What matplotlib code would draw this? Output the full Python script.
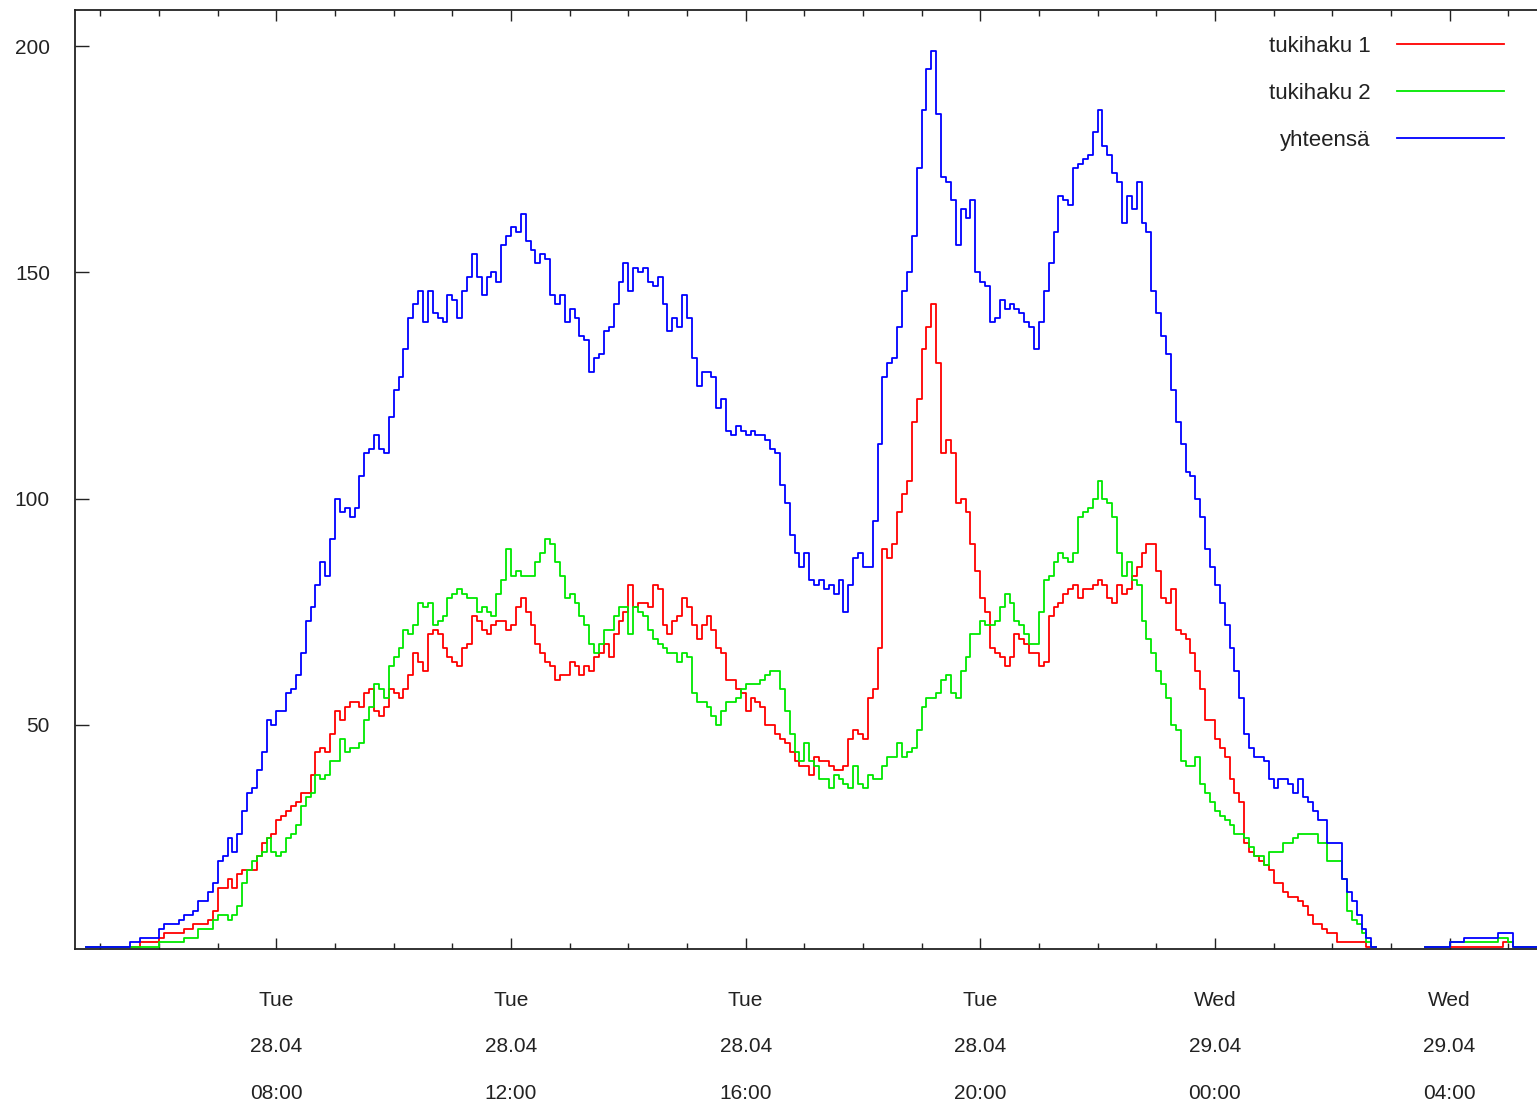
import numpy as np
import pandas as pd
import matplotlib
matplotlib.use("Agg")
import matplotlib.pyplot as plt
import matplotlib.dates as mdates

nan = np.nan

# 5-minute samples starting Tue 28.04 04:45
start_time = "2009-04-28 04:45"
sample_freq = "5min"

tukihaku_1 = [
    1, 1, 1, 1, 1, 1, 1, 1, 1, 1, 1, 2,
    2, 2, 2, 3, 4, 4, 4, 4, 5, 5, 6, 6,
    6, 7, 9, 14, 14, 16, 14, 17, 18, 18, 18, 21,
    24, 25, 26, 29, 30, 31, 32, 33, 35, 35, 39, 44,
    45, 44, 48, 53, 51, 54, 55, 55, 54, 57, 58, 53,
    52, 54, 58, 57, 56, 58, 61, 66, 64, 62, 70, 71,
    70, 67, 65, 64, 63, 67, 68, 74, 73, 71, 70, 72,
    73, 73, 71, 72, 76, 78, 75, 72, 68, 66, 64, 63,
    60, 61, 61, 64, 63, 61, 63, 62, 65, 66, 68, 65,
    70, 73, 75, 81, 76, 77, 77, 76, 81, 80, 72, 70,
    73, 74, 78, 76, 72, 69, 72, 74, 71, 67, 66, 60,
    60, 58, 57, 53, 56, 55, 54, 50, 50, 48, 47, 46,
    44, 42, 41, 41, 39, 43, 42, 42, 41, 40, 40, 41,
    47, 49, 48, 47, 56, 58, 67, 89, 87, 90, 97, 101,
    104, 117, 122, 133, 138, 143, 130, 110, 113, 110, 99, 100,
    97, 90, 84, 78, 75, 67, 66, 65, 63, 65, 70, 69,
    68, 66, 66, 63, 64, 74, 76, 77, 79, 80, 81, 78,
    80, 80, 81, 82, 81, 78, 77, 81, 79, 80, 83, 85,
    88, 90, 90, 84, 78, 77, 80, 71, 70, 69, 66, 62,
    58, 51, 51, 47, 45, 43, 38, 35, 33, 24, 22, 21,
    20, 19, 18, 15, 15, 13, 12, 12, 11, 10, 8, 6,
    6, 5, 4, 4, 2, 2, 2, 2, 2, 2, 1, 1,
    nan, nan, nan, nan, nan, nan, nan, nan, nan, nan, 1, 1,
    1, 1, 1, 1, 1, 1, 1, 1, 1, 1, 1, 1,
    1, 1, 2, 2, 1, 1, 1, 1, 1, 1,
]

tukihaku_2 = [
    1, 1, 1, 1, 1, 1, 1, 1, 1, 1, 1, 1,
    1, 1, 1, 2, 2, 2, 2, 2, 3, 3, 3, 5,
    5, 5, 7, 8, 8, 7, 8, 10, 15, 18, 20, 21,
    22, 25, 22, 21, 22, 25, 26, 28, 32, 34, 35, 39,
    38, 39, 42, 42, 47, 44, 45, 45, 46, 51, 54, 59,
    58, 56, 63, 65, 67, 71, 70, 72, 77, 76, 77, 72,
    73, 74, 78, 79, 80, 79, 78, 78, 75, 76, 75, 74,
    79, 82, 89, 83, 84, 83, 83, 83, 86, 88, 91, 90,
    86, 83, 78, 79, 77, 74, 72, 68, 66, 68, 71, 71,
    74, 76, 76, 70, 76, 75, 74, 71, 69, 68, 67, 66,
    66, 64, 66, 65, 57, 55, 55, 54, 52, 50, 53, 55,
    55, 56, 58, 59, 59, 59, 60, 61, 62, 62, 58, 53,
    48, 44, 42, 46, 42, 41, 38, 38, 36, 39, 38, 37,
    36, 41, 37, 36, 39, 38, 38, 41, 43, 43, 46, 43,
    44, 45, 49, 54, 56, 56, 57, 60, 61, 57, 56, 62,
    65, 70, 70, 73, 72, 72, 73, 76, 79, 77, 73, 72,
    70, 68, 68, 75, 82, 83, 86, 88, 87, 86, 88, 96,
    97, 98, 100, 104, 100, 99, 96, 88, 83, 86, 82, 81,
    73, 69, 66, 62, 59, 56, 50, 49, 42, 41, 41, 43,
    37, 35, 33, 31, 30, 29, 28, 26, 26, 25, 23, 21,
    21, 19, 22, 22, 22, 24, 24, 25, 26, 26, 26, 26,
    24, 24, 20, 20, 20, 16, 9, 7, 6, 4, 2, 1,
    nan, nan, nan, nan, nan, nan, nan, nan, nan, nan, 1, 1,
    1, 1, 1, 2, 2, 2, 2, 2, 2, 2, 2, 2,
    2, 3, 3, 2, 1, 1, 1, 1, 1, 1,
]

yhteensa = [
    1, 1, 1, 1, 1, 1, 1, 1, 1, 2, 2, 3,
    3, 3, 3, 5, 6, 6, 6, 7, 8, 8, 9, 11,
    11, 13, 15, 20, 21, 25, 22, 26, 31, 35, 36, 40,
    44, 51, 50, 53, 53, 57, 58, 61, 66, 73, 76, 81,
    86, 83, 91, 100, 97, 98, 96, 98, 105, 110, 111, 114,
    111, 110, 118, 124, 127, 133, 140, 143, 146, 139, 146, 141,
    140, 139, 145, 144, 140, 146, 149, 154, 149, 145, 149, 150,
    148, 156, 158, 160, 159, 163, 157, 155, 152, 154, 153, 145,
    143, 145, 139, 142, 140, 136, 135, 128, 131, 132, 137, 138,
    143, 148, 152, 146, 151, 150, 151, 148, 147, 149, 143, 137,
    140, 138, 145, 140, 131, 125, 128, 128, 127, 120, 122, 115,
    114, 116, 115, 114, 115, 114, 114, 113, 111, 110, 103, 99,
    92, 88, 85, 88, 82, 81, 82, 80, 81, 79, 82, 75,
    81, 87, 88, 85, 85, 95, 112, 127, 130, 131, 138, 146,
    150, 158, 173, 186, 195, 199, 185, 171, 170, 166, 156, 164,
    162, 166, 150, 148, 147, 139, 140, 144, 142, 143, 142, 141,
    139, 138, 133, 139, 146, 152, 159, 167, 166, 165, 173, 174,
    175, 176, 181, 186, 178, 176, 172, 170, 161, 167, 164, 170,
    161, 159, 146, 141, 136, 132, 124, 117, 112, 106, 105, 100,
    96, 89, 85, 81, 77, 72, 67, 62, 56, 48, 45, 43,
    43, 42, 38, 36, 38, 38, 37, 35, 38, 34, 33, 31,
    29, 29, 24, 24, 24, 16, 13, 11, 8, 5, 3, 1,
    nan, nan, nan, nan, nan, nan, nan, nan, nan, nan, 1, 1,
    1, 1, 1, 2, 2, 2, 3, 3, 3, 3, 3, 3,
    3, 4, 4, 4, 1, 1, 1, 1, 1, 1,
]

series_names = ["tukihaku 1", "tukihaku 2", "yhteensä"]
series_colors = ["#ff0000", "#00e800", "#0000ff"]
y_ticks = [50, 100, 150, 200]
x_start = "2009-04-28 04:34"
x_end = "2009-04-29 05:29:30"

times = pd.date_range(start_time, periods=len(yhteensa), freq=sample_freq)

plt.rcParams['font.family'] = ['Liberation Sans', 'DejaVu Sans']
plt.rcParams['font.size'] = 15

W, H = 1537, 1106
fig = plt.figure(figsize=(W / 100, H / 100), dpi=100)
ax = fig.add_axes([75 / W, (H - 949) / H, 1 - 75 / W, (949 - 10) / H])

for vals, name, col in zip([tukihaku_1, tukihaku_2, yhteensa], series_names, series_colors):
    ax.step(times, vals, where='post', color=col, lw=1.3, label=name)

ax.set_xlim(pd.Timestamp(x_start), pd.Timestamp(x_end))
ax.set_ylim(0.5, 208)
ax.set_yticks(y_ticks)

ax.xaxis.set_major_locator(mdates.HourLocator(byhour=range(0, 24, 4)))
ax.xaxis.set_minor_locator(mdates.HourLocator())
ax.xaxis.set_major_formatter(mdates.DateFormatter('%a\n%d.%m\n%H:%M'))

axis_color = '#222222'
for side in ['left', 'bottom', 'top']:
    ax.spines[side].set_color(axis_color)
    ax.spines[side].set_linewidth(1.3)
ax.spines['right'].set_visible(False)

ax.tick_params(axis='both', which='both', direction='in', colors=axis_color,
               labelcolor='#222222', width=1.0)
ax.tick_params(axis='x', which='both', top=True, bottom=True)
ax.tick_params(axis='x', which='major', length=8, pad=30)
ax.tick_params(axis='x', which='minor', length=4)
ax.tick_params(axis='y', which='major', length=10, pad=18, right=False)
for lbl in ax.get_xticklabels():
    lbl.set_linespacing(2.85)

leg = ax.legend(loc='upper right', bbox_to_anchor=(1504 / W, 1 - 36 / H),
                bbox_transform=fig.transFigure, frameon=False, markerfirst=False,
                fontsize=16, handlelength=4.8, handletextpad=1.2, labelspacing=1.17,
                borderpad=0, borderaxespad=0)
for t in leg.get_texts():
    t.set_color('#222222')

fig.savefig("out.png", dpi=100)
